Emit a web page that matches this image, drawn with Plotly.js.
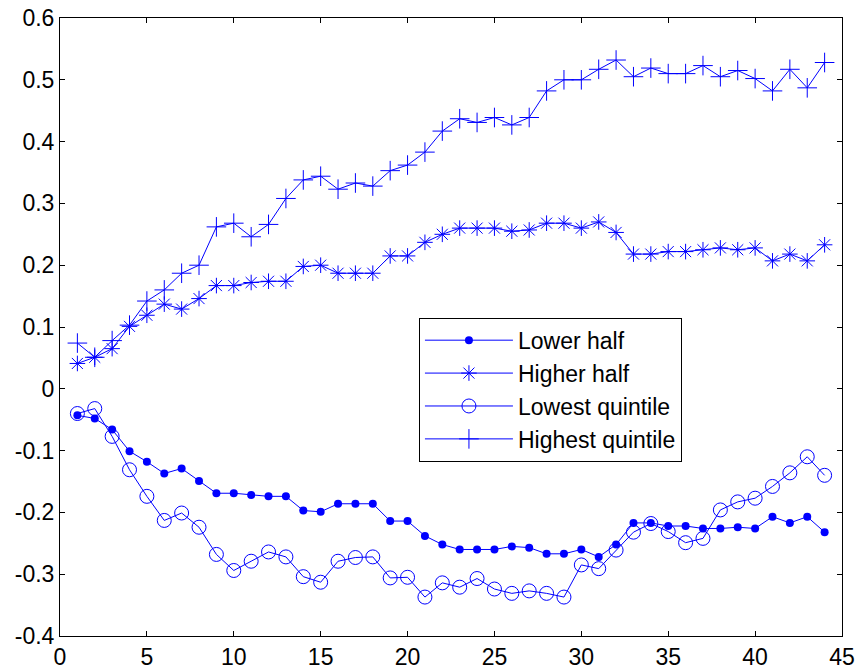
<!DOCTYPE html>
<html>
<head>
<meta charset="utf-8">
<script src="https://cdn.plot.ly/plotly-3.0.1.min.js"></script>
<style>html,body{margin:0;padding:0;background:#fff;}#chart{width:859px;height:671px;}</style>
</head>
<body>
<div id="chart"></div>
<script>
const xIdx = [1,2,3,4,5,6,7,8,9,10,11,12,13,14,15,16,17,18,19,20,21,22,23,24,25,26,27,28,29,30,31,32,33,34,35,36,37,38,39,40,41,42,43,44];

const lowerHalf = [-0.043,-0.048,-0.066,-0.101,-0.118,-0.137,-0.129,-0.149,-0.169,-0.169,
  -0.172,-0.174,-0.174,-0.197,-0.199,-0.186,-0.186,-0.186,-0.214,-0.214,
  -0.238,-0.252,-0.260,-0.260,-0.260,-0.255,-0.257,-0.267,-0.267,-0.260,
  -0.272,-0.252,-0.217,-0.217,-0.222,-0.222,-0.226,-0.226,-0.224,-0.226,
  -0.207,-0.217,-0.207,-0.232];

const higherHalf = [0.041,0.051,0.065,0.101,0.119,0.137,0.129,0.146,0.167,0.167,
  0.172,0.174,0.174,0.198,0.200,0.187,0.187,0.187,0.215,0.215,
  0.237,0.250,0.260,0.260,0.260,0.255,0.257,0.268,0.268,0.260,
  0.270,0.253,0.218,0.218,0.222,0.222,0.225,0.228,0.225,0.228,
  0.207,0.218,0.207,0.233];

const lowestQuintile = [-0.040,-0.032,-0.077,-0.131,-0.174,-0.213,-0.201,-0.224,-0.268,-0.294,
  -0.279,-0.264,-0.272,-0.304,-0.313,-0.279,-0.273,-0.272,-0.306,-0.305,
  -0.337,-0.314,-0.321,-0.307,-0.324,-0.331,-0.327,-0.331,-0.337,-0.285,
  -0.291,-0.261,-0.232,-0.218,-0.231,-0.249,-0.242,-0.196,-0.183,-0.177,
  -0.158,-0.136,-0.110,-0.140];

const highestQuintile = [0.074,0.051,0.078,0.103,0.142,0.160,0.187,0.200,0.262,0.268,
  0.246,0.266,0.308,0.338,0.344,0.323,0.333,0.328,0.353,0.362,
  0.383,0.417,0.437,0.431,0.439,0.427,0.439,0.482,0.500,0.500,
  0.517,0.532,0.505,0.519,0.510,0.510,0.523,0.505,0.515,0.502,
  0.482,0.517,0.487,0.528];

const seriesNames = ["Lower half","Higher half","Lowest quintile","Highest quintile"];

const xTickVals = [0,5,10,15,20,25,30,35,40,45];
const xTickText = ["0","5","10","15","20","25","30","35","40","45"];
const yTickVals = [-0.4,-0.3,-0.2,-0.1,0,0.1,0.2,0.3,0.4,0.5,0.6];
const yTickText = ["-0.4","-0.3","-0.2","-0.1","0","0.1","0.2","0.3","0.4","0.5","0.6"];

const blue = "#0000ff";
const lineStyle = {color: blue, width: 1};

const traces = [
  {x: xIdx, y: lowerHalf, name: seriesNames[0], mode: "lines+markers", line: lineStyle,
   marker: {symbol: "circle", size: 8, color: blue}},
  {x: xIdx, y: higherHalf, name: seriesNames[1], mode: "lines+markers", line: lineStyle,
   marker: {symbol: "asterisk-open", size: 13, color: blue, line: {color: blue, width: 1}}},
  {x: xIdx, y: lowestQuintile, name: seriesNames[2], mode: "lines+markers", line: lineStyle,
   marker: {symbol: "circle-open", size: 14, color: blue, line: {color: blue, width: 1}}},
  {x: xIdx, y: highestQuintile, name: seriesNames[3], mode: "lines+markers", line: lineStyle,
   marker: {symbol: "cross-thin-open", size: 14, color: blue, line: {color: blue, width: 1}}}
];

const axisCommon = {
  showline: true, linecolor: "#000", linewidth: 1, mirror: "ticks",
  ticks: "inside", ticklen: 5, tickcolor: "#000", tickwidth: 1,
  showgrid: false, zeroline: false,
  tickfont: {family: "Liberation Sans, Arial, sans-serif", size: 23, color: "#000"}
};

const layout = {
  width: 859, height: 671,
  margin: {l: 60, r: 17, t: 18, b: 35},
  paper_bgcolor: "#fff", plot_bgcolor: "#fff",
  font: {family: "Liberation Sans, Arial, sans-serif", color: "#000"},
  xaxis: Object.assign({}, axisCommon, {range: [0, 45], tickvals: xTickVals, ticktext: xTickText}),
  yaxis: Object.assign({}, axisCommon, {range: [-0.4, 0.6], tickvals: yTickVals, ticktext: yTickText}),
  showlegend: true,
  legend: {
    x: 0.459, y: 0.515, xanchor: "left", yanchor: "top",
    bgcolor: "#fff", bordercolor: "#000", borderwidth: 1,
    font: {family: "Liberation Sans, Arial, sans-serif", size: 23, color: "#000"},
    itemwidth: 88, tracegroupgap: 0
  }
};

Plotly.newPlot("chart", traces, layout, {displayModeBar: false, staticPlot: true});
</script>
</body>
</html>
